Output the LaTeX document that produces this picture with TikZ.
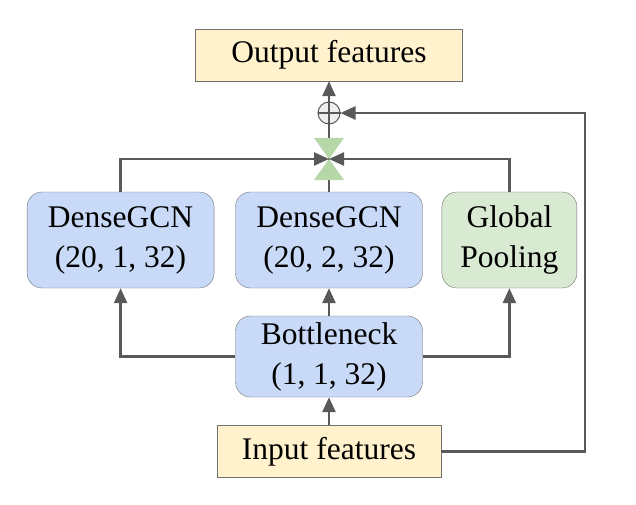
\documentclass[tikz,border=0pt]{standalone}
\usepackage{fontspec}
\setmainfont{Liberation Serif}
\usetikzlibrary{positioning,arrows.meta}
\definecolor{wire}{HTML}{595959}
\definecolor{edge}{HTML}{707070}
\definecolor{gcnblue}{HTML}{C9DAF8}
\definecolor{poolgreen}{HTML}{D9EAD3}
\definecolor{featyellow}{HTML}{FFF2CC}
\definecolor{mixgreen}{HTML}{B6D7A8}
\definecolor{sumgray}{HTML}{EFEFEF}
\begin{document}
\begin{tikzpicture}[x=1pt, y=-1pt,
    font=\fontsize{31.5}{40}\selectfont,
    block/.style={draw=edge, rounded corners=15pt, align=center, inner sep=0pt, minimum width=187pt, minimum height=96pt},
    feat/.style={draw=edge, fill=featyellow, inner sep=0pt, minimum height=52pt},
    link/.style={draw=wire, line width=2.5pt, -{Triangle[length=15pt, width=13pt]}}]

    \useasboundingbox (0,0) rectangle (636,505);

    \node[feat, minimum width=267pt] (out) at (329,55) {Output features};
    \node[feat, minimum width=224pt] (inp) at (329,451.5) {Input features};
    \node[block, fill=gcnblue, minimum height=81pt] (bn) at (329,356.5) {Bottleneck\\(1, 1, 32)};
    \node[block, fill=gcnblue] (gcnb) at (329,240) {DenseGCN\\(20, 2, 32)};
    \node[block, fill=gcnblue, left=21pt of gcnb] (gcna) {DenseGCN\\(20, 1, 32)};
    \node[block, fill=poolgreen, minimum width=135pt, right=19pt of gcnb] (pool) {Global\\Pooling};

    \node[circle, draw=wire, fill=sumgray, line width=1pt, minimum size=22pt, inner sep=0pt] (sum) at (329,113) {};
    \draw[wire, line width=2pt] (sum.north) -- (sum.south) (sum.west) -- (sum.east);
    \coordinate (mix) at (329,159);
    \coordinate (turn) at (585,113);

    \draw[link] (inp) -- (bn);
    \draw[link] (bn) -- (gcnb);
    \draw[link] (bn.west) -| (gcna.south);
    \draw[link] (bn.east) -| (pool.south);

    \draw[wire, line width=2.5pt] (gcnb.north) -- (mix) -- (sum.south);
    \fill[mixgreen] (mix) -- ++(-15,-21) -- ++(30,0) -- cycle
        (mix) -- ++(-15,21) -- ++(30,0) -- cycle;
    \draw[link] (gcna.north) |- (mix);
    \draw[link] (pool.north) |- (mix);

    \draw[link] (sum.north) -- (out.south);
    \draw[link] (inp.east) -| (turn) -- (sum.east);

\end{tikzpicture}
\end{document}
